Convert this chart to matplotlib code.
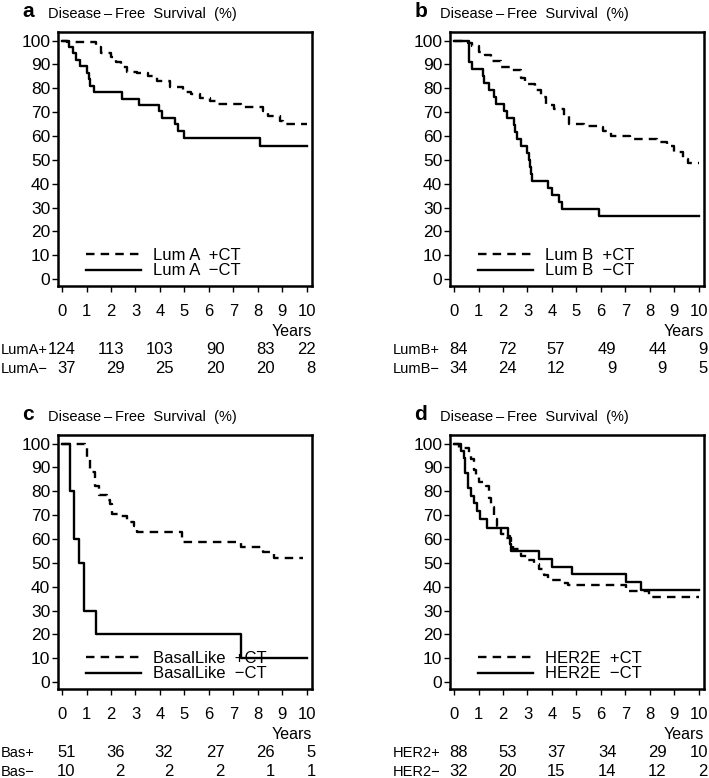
import matplotlib
matplotlib.use('Agg')
import matplotlib.pyplot as plt
from matplotlib.lines import Line2D

plt.rcParams['font.family'] = ['Liberation Sans Narrow', 'Liberation Sans', 'DejaVu Sans']

# ------------------------------------------------------------------------------
# Kaplan-Meier step data (time in years, survival in %)
lum_a_ct_t = [0, 0.2, 1.4, 1.6, 2.0, 2.2, 2.4, 2.65, 3.05, 3.5, 3.9, 4.4, 4.95,
              5.25, 5.65, 6.05, 6.35, 7.3, 8.2, 8.4, 8.9, 9.05, 10]
lum_a_ct_s = [100, 99.3, 97.5, 95, 93, 91, 89, 87, 86.5, 85.3, 83, 80.7, 78.3,
              77.6, 76, 74.5, 73.4, 72.3, 70.5, 68.5, 66.4, 65, 65]
lum_a_noct_t = [0, 0.3, 0.45, 0.55, 0.75, 1.0, 1.1, 1.15, 1.3, 2.45, 3.15, 3.95,
                4.1, 4.6, 4.75, 5.0, 8.1, 10]
lum_a_noct_s = [100, 97.3, 94.6, 91.9, 89.2, 86.5, 83.8, 81.1, 78.4, 75.7, 73.0,
                70.3, 67.6, 64.9, 62.2, 59.0, 55.7, 55.7]

lum_b_ct_t = [0, 0.55, 0.75, 1.0, 1.25, 1.5, 1.9, 2.3, 2.75, 2.9, 3.3, 3.55,
              3.75, 4.1, 4.5, 4.7, 5.3, 5.9, 6.1, 6.4, 7.2, 8.3, 8.7, 9.0, 9.35,
              9.55, 10]
lum_b_ct_s = [100, 98.8, 97.6, 95.2, 93.9, 91.6, 89.1, 87.8, 84.3, 81.8, 79.2,
              76.2, 73.0, 71.3, 68.5, 65.0, 64.2, 63.6, 62.0, 60.1, 58.7, 57.3,
              55.7, 53.1, 50.3, 48.7, 48.7]
lum_b_noct_t = [0, 0.6, 0.75, 1.16, 1.23, 1.43, 1.64, 1.71, 2.05, 2.18, 2.43,
                2.5, 2.59, 2.73, 3.0, 3.05, 3.1, 3.14, 3.2, 3.82, 4.02, 4.3,
                4.43, 5.93, 10]
lum_b_noct_s = [100, 91.2, 88.2, 85.3, 82.4, 79.4, 76.5, 73.5, 70.6, 67.6, 64.7,
                61.8, 58.8, 55.9, 52.9, 50.0, 47.1, 44.1, 41.2, 38.2, 35.3, 32.3,
                29.4, 26.5, 26.5]

bas_ct_t = [0, 0.95, 1.0, 1.15, 1.35, 1.5, 1.85, 1.97, 2.05, 2.3, 2.65, 2.95,
            3.05, 4.9, 7.3, 8.2, 8.65, 9.86]
bas_ct_s = [100, 98, 94.1, 88.2, 82.3, 78.4, 76.5, 74.5, 70.6, 69.5, 67.0, 65.5,
            63.0, 58.9, 56.7, 54.6, 52.2, 52.2]
bas_noct_t = [0, 0.34, 0.48, 0.68, 0.88, 1.39, 7.3, 10]
bas_noct_s = [100, 80, 60, 50, 30, 20, 10, 10]

her2_ct_t = [0, 0.2, 0.6, 0.68, 0.82, 0.89, 1.02, 1.3, 1.43, 1.5, 1.64, 1.77,
             1.9, 2.1, 2.32, 2.39, 2.73, 3.0, 3.27, 3.48, 3.68, 3.82, 4.37, 4.64,
             7.03, 7.98, 10]
her2_ct_s = [100, 98.3, 96, 93.7, 89, 86.6, 84, 82.4, 77, 73.3, 68.4, 65.5, 62,
             60.5, 58.5, 55.7, 52.9, 51, 49.4, 47.3, 45, 43, 41.5, 40.5, 38.4,
             35.6, 35.6]
her2_noct_t = [0, 0.27, 0.41, 0.45, 0.55, 0.68, 0.8, 0.95, 1.06, 1.36, 2.21,
               2.27, 2.32, 3.48, 4.02, 4.84, 7.03, 7.64, 10]
her2_noct_s = [100, 96.9, 93.8, 87.5, 81.3, 78.1, 75.0, 71.9, 68.3, 64.8, 61.3,
               58.0, 54.8, 51.6, 48.4, 45.2, 42.0, 38.7, 38.7]

# numbers at risk
lum_a_risk = [[124, 113, 103, 90, 83, 22], [37, 29, 25, 20, 20, 8]]
lum_b_risk = [[84, 72, 57, 49, 44, 9], [34, 24, 12, 9, 9, 5]]
bas_risk = [[51, 36, 32, 27, 26, 5], [10, 2, 2, 2, 1, 1]]
her2_risk = [[88, 53, 37, 34, 29, 10], [32, 20, 15, 14, 12, 2]]

panel_letters = ['a', 'b', 'c', 'd']
legend_names = ['Lum A', 'Lum B', 'BasalLike', 'HER2E']
risk_names = [['LumA+', 'LumA\u2212'], ['LumB+', 'LumB\u2212'],
              ['Bas+', 'Bas\u2212'], ['HER2+', 'HER2\u2212']]
x_ticks = list(range(0, 11))
y_ticks = list(range(0, 101, 10))
risk_x = [0.55, 2.55, 4.55, 6.65, 8.7, 10.38]


# ------------------------------------------------------------------------------
def draw_panel(ax, letter, name, curves, risk, risk_labels):
    (t_ct, s_ct), (t_no, s_no) = curves
    ax.step(t_ct, s_ct, where='post', color='black', lw=1.7,
            linestyle=(0, (3.6, 2.6)))
    ax.step(t_no, s_no, where='post', color='black', lw=1.7)

    ax.set_xlim(-0.17, 10.22)
    ax.set_ylim(-2.9, 103.6)
    ax.set_xticks(x_ticks)
    ax.set_yticks(y_ticks)
    ax.tick_params(axis='x', direction='out', length=4, width=1, pad=9,
                   labelsize=12)
    ax.tick_params(axis='y', direction='out', length=4, width=1, pad=1.5,
                   labelsize=12.5)
    for sp in ax.spines.values():
        sp.set_linewidth(1.8)

    # panel letter and y title
    ax.text(-0.14, 1.082, letter, transform=ax.transAxes, fontsize=15,
            fontweight='bold', family='Liberation Sans', va='center',
            ha='left')
    ax.text(-0.04, 1.07, 'Disease\u2009\u2013\u2009Free  Survival  (%)',
            transform=ax.transAxes, fontsize=10.5, va='center', ha='left')

    # legend
    handles = [Line2D([], [], color='black', lw=1.7, linestyle=(0, (3.6, 2.6))),
               Line2D([], [], color='black', lw=1.7)]
    labels = [name + '  +CT', name + '  \u2212CT']
    ax.legend(handles, labels, loc='lower left', bbox_to_anchor=(0.11, 0.03),
              frameon=False, fontsize=12, handlelength=3.3,
              handletextpad=0.7, labelspacing=0.05, borderpad=0,
              borderaxespad=0)

    # x axis caption and numbers at risk
    ax.annotate('Years', xy=(1.0, 0), xycoords='axes fraction',
                xytext=(0, -32.5), textcoords='offset points',
                ha='right', va='center', fontsize=11.5, annotation_clip=False)
    for row, (vals, lab) in enumerate(zip(risk, risk_labels)):
        dy = -46 - row * 13.6
        ax.annotate(lab, xy=(-0.226, 0), xycoords='axes fraction',
                    xytext=(0, dy), textcoords='offset points',
                    ha='left', va='center', fontsize=10.5,
                    annotation_clip=False)
        for xv, val in zip(risk_x, vals):
            ax.annotate(str(val), xy=(xv, 0),
                        xycoords=('data', 'axes fraction'),
                        xytext=(0, dy), textcoords='offset points',
                        ha='right', va='center', fontsize=12,
                        annotation_clip=False)


# ==============================================================================
fig = plt.figure(figsize=(7.09, 7.78), dpi=100)
W, H = 709., 778.
boxes = [(58, 32), (450, 32), (58, 435), (450, 435)]
all_curves = [((lum_a_ct_t, lum_a_ct_s), (lum_a_noct_t, lum_a_noct_s)),
              ((lum_b_ct_t, lum_b_ct_s), (lum_b_noct_t, lum_b_noct_s)),
              ((bas_ct_t, bas_ct_s), (bas_noct_t, bas_noct_s)),
              ((her2_ct_t, her2_ct_s), (her2_noct_t, her2_noct_s))]
all_risk = [lum_a_risk, lum_b_risk, bas_risk, her2_risk]

for i in range(4):
    left, top = boxes[i]
    ax = fig.add_axes([left / W, 1 - (top + 254) / H, 254 / W, 254 / H])
    draw_panel(ax, panel_letters[i], legend_names[i], all_curves[i],
               all_risk[i], risk_names[i])

fig.savefig('out.png', dpi=100)
